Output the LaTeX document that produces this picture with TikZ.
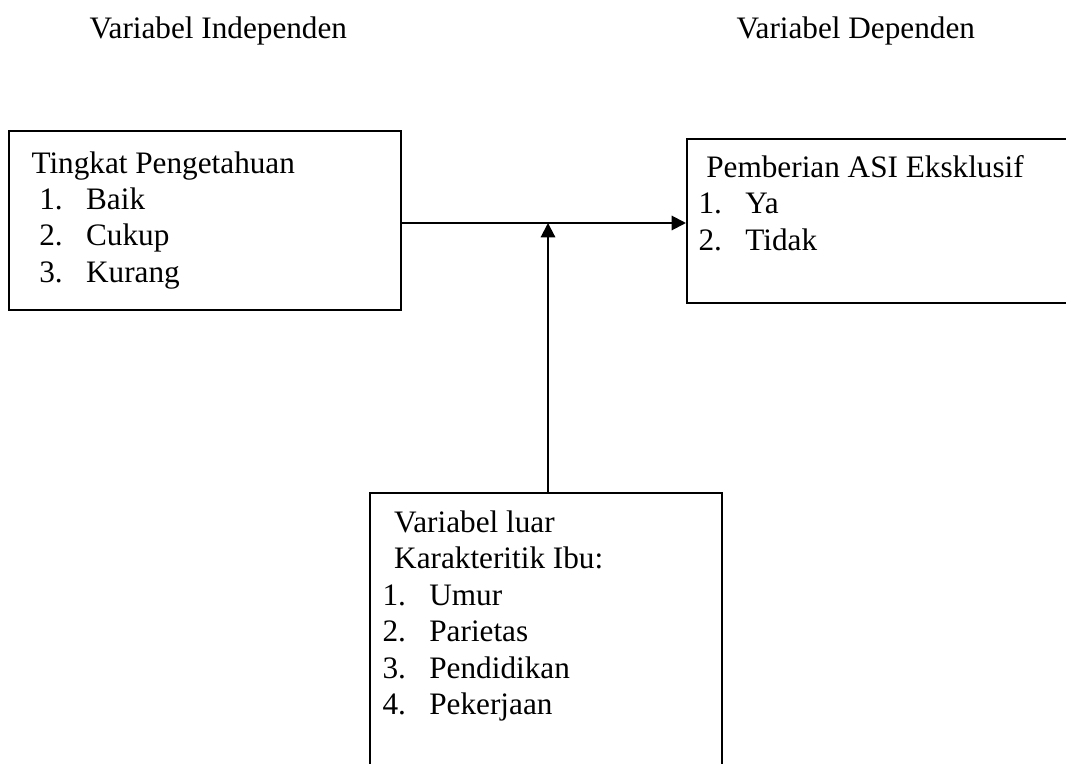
\documentclass[tikz,border=0pt]{standalone}
\usepackage{fontspec}
\setmainfont{Liberation Serif}
\usetikzlibrary{arrows.meta,fit}

\newcommand{\butir}[2]{\makebox[18pt][l]{#1}#2}

\tikzset{
  kotak/.style={draw, line width=0.8pt, inner sep=0pt, fit=#1},
  isi/.style={anchor=north west, inner sep=0pt, align=left, font=\fontsize{12}{14}\selectfont},
  judul/.style={anchor=base west, inner sep=0pt, font=\fontsize{12}{14}\selectfont},
  panah/.style={line width=0.8pt, -{Triangle[length=5.5pt,width=5.5pt]}},
}

\begin{document}
\begin{tikzpicture}[x=0.0135cm, y=-0.0135cm]

    %% Background
    \useasboundingbox (0,0) rectangle (1066,763);
    \clip (0,0) rectangle (1066,763);

    % Titles
    \node[judul] (indep) at (89,39) {Variabel Independen};
    \node[judul] (dep) at (736,39) {Variabel Dependen};

    % Boxes
    \coordinate (p1) at (9,131);
    \coordinate (p2) at (401,310);
    \node[kotak={(p1)(p2)}] (pengetahuan) {};

    \coordinate (a1) at (687,139);
    \coordinate (a2) at (1080,303);
    \node[kotak={(a1)(a2)}] (asi) {};

    \coordinate (l1) at (370,493);
    \coordinate (l2) at (722,790);
    \node[kotak={(l1)(l2)}] (luar) {};

    % Texts
    \node[isi] (teks1) at (31,147)
    {\strut Tingkat Pengetahuan\\
     \hspace*{3pt}\butir{1.}{Baik}\\
     \hspace*{3pt}\butir{2.}{Cukup}\\
     \hspace*{3pt}\butir{3.}{Kurang}};

    \node[isi] (teks2) at (698,151.5)
    {\hspace*{3pt}\strut Pemberian ASI Eksklusif\\
     \butir{1.}{Ya}\\
     \butir{2.}{Tidak}};

    \node[isi] (teks3) at (382,506.5)
    {\hspace*{4.5pt}\strut Variabel luar\\
     \hspace*{4.5pt}Karakteritik Ibu:\\
     \butir{1.}{Umur}\\
     \butir{2.}{Parietas}\\
     \butir{3.}{Pendidikan}\\
     \butir{4.}{Pekerjaan}};

    % Arrows
    \coordinate (temu) at (548,223);
    \draw[panah] (pengetahuan.east |- temu) -- (asi.west |- temu);
    \draw[panah] (luar.north -| temu) -- (temu);

\end{tikzpicture}
\end{document}
